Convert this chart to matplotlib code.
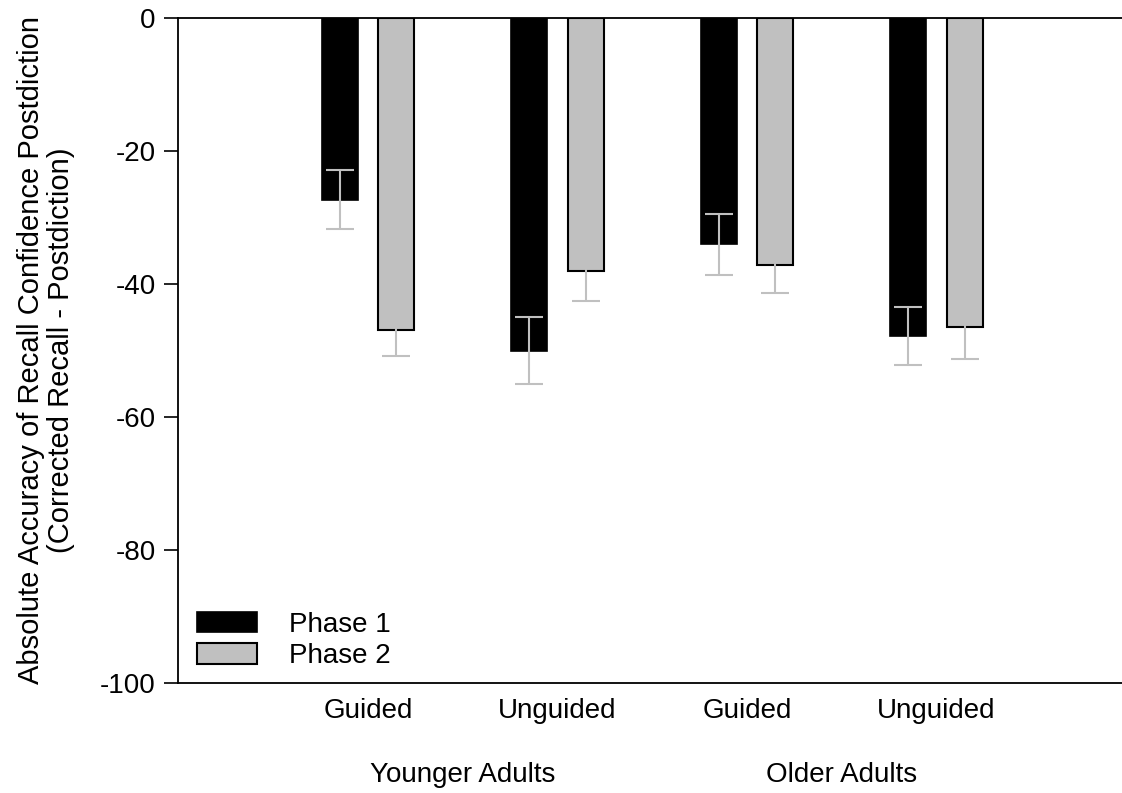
import numpy as np
import matplotlib
matplotlib.use("Agg")
import matplotlib.pyplot as plt

plt.rcParams['font.family'] = ['Liberation Sans', 'DejaVu Sans']
plt.rcParams['axes.unicode_minus'] = False

# Data
conditions = ["Guided", "Unguided", "Guided", "Unguided"]
groups = ["Younger Adults", "Older Adults"]
phase1 = [-27.3, -50.0, -34.0, -47.8]
phase1_err = [4.5, 5.1, 4.6, 4.4]
phase2 = [-46.9, -38.1, -37.1, -46.4]
phase2_err = [4.0, 4.5, 4.3, 4.9]

FS = 21
FS_TICK = 20

fig = plt.figure(figsize=(11.22, 7.93), dpi=100)
ax = fig.add_axes([178 / 1122, 110 / 793, 944 / 1122, 665 / 793])

x = np.arange(len(conditions))
w = 0.19
off = 0.149
err_kw = dict(ecolor="#c0c0c0", elinewidth=1.5, capsize=10, capthick=1.5)

ax.bar(x - off, phase1, w, color="black", edgecolor="black", linewidth=1.2,
       yerr=phase1_err, error_kw=err_kw, label="Phase 1")
ax.bar(x + off, phase2, w, color="#c0c0c0", edgecolor="black", linewidth=1.5,
       yerr=phase2_err, error_kw=err_kw, label="Phase 2")

ax.set_xlim(-1.003, 3.98)
ax.set_ylim(-100, 0)
ax.set_yticks([0, -20, -40, -60, -80, -100])
ax.set_xticks(x)
ax.set_xticklabels(conditions)
ax.tick_params(axis="x", length=0, pad=11, labelsize=FS_TICK)
ax.tick_params(axis="y", length=10, width=1.2, direction="out", pad=6, labelsize=FS_TICK)

for s in ["left", "top", "bottom"]:
    ax.spines[s].set_linewidth(1.3)
ax.spines["right"].set_visible(False)

# group labels under the condition labels
for i, g in enumerate(groups):
    ax.text(2 * i + 0.5, -113.8, g, ha="center", va="center", fontsize=FS_TICK,
            clip_on=False)

ax.set_ylabel("Absolute Accuracy of Recall Confidence Postdiction\n(Corrected Recall - Postdiction)",
              fontsize=FS, labelpad=18, linespacing=1.1)

ax.legend(loc="lower left", bbox_to_anchor=(-0.006, -0.017), frameon=False,
          fontsize=FS_TICK, handlelength=2.15, handleheight=0.75, handletextpad=1.15,
          labelspacing=0.2)

fig.savefig("out.png", dpi=100)
